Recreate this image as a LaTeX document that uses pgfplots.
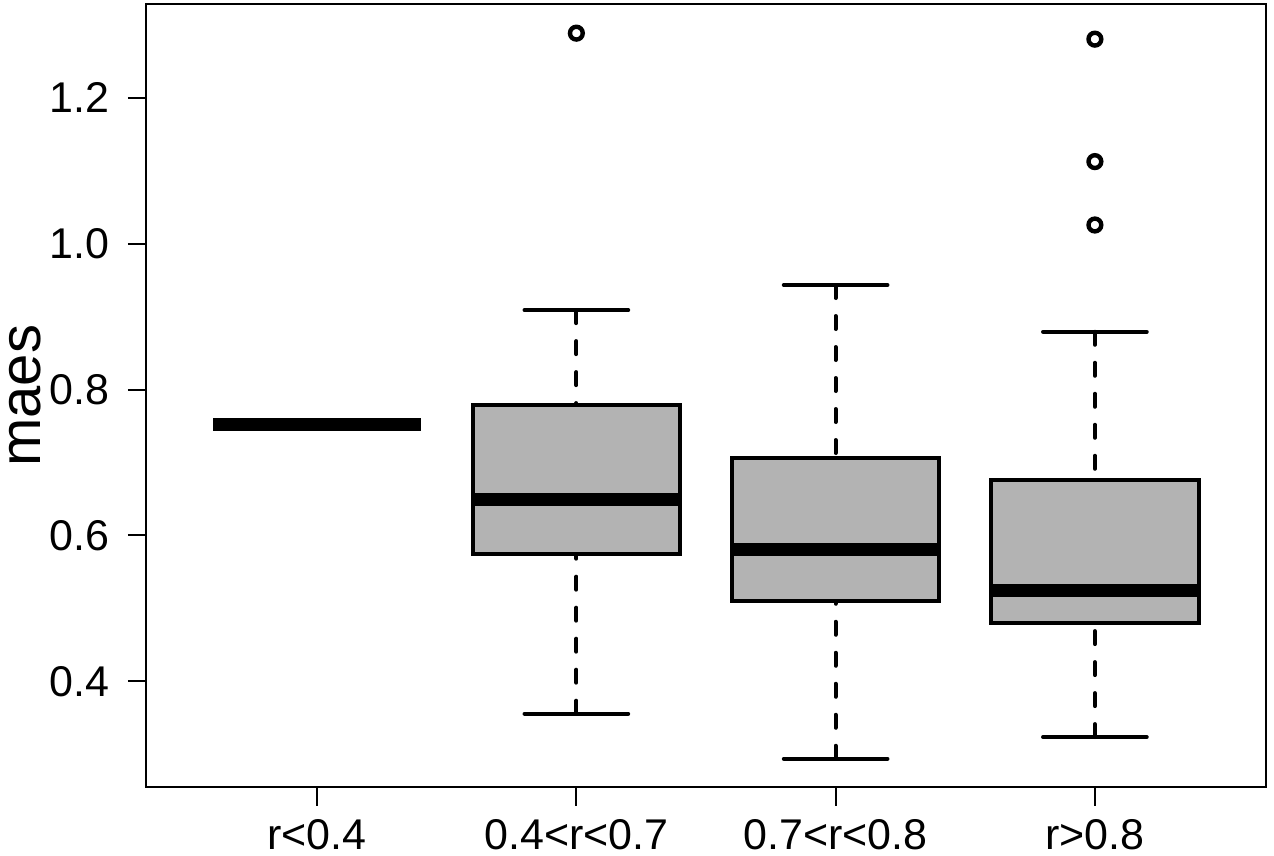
\documentclass[border=0pt]{standalone}
\usepackage{fontspec}
\setmainfont{Liberation Sans}
\usepackage{pgfplots}
\pgfplotsset{compat=1.18}
\usepgfplotslibrary{statistics}
\definecolor{boxgray}{HTML}{B3B3B3}

% R-style boxplot: grey box, thick median, dashed whiskers with solid caps
\pgfplotsset{
  rbox/.style={
    black,
    boxplot/draw direction=y,
    boxplot/box extend=0.8,
    boxplot/whisker extend=0.4,
    boxplot/every box/.style={fill=boxgray, draw=black, line width=2pt, solid},
    boxplot/every median/.style={draw=black, line width=6.5pt, solid},
    boxplot/draw/lower whisker/.code={%
      \draw[black, line width=2pt, line cap=round, dash pattern=on 6.5pt off 9pt]
        (boxplot box cs:\pgfplotsboxplotvalue{lower whisker},0.5) --
        (boxplot box cs:\pgfplotsboxplotvalue{lower quartile},0.5);
      \draw[black, line width=2pt, line cap=round, solid]
        (boxplot whisker cs:\pgfplotsboxplotvalue{lower whisker},0) --
        (boxplot whisker cs:\pgfplotsboxplotvalue{lower whisker},1);
    },
    boxplot/draw/upper whisker/.code={%
      \draw[black, line width=2pt, line cap=round, dash pattern=on 6.5pt off 9pt]
        (boxplot box cs:\pgfplotsboxplotvalue{upper whisker},0.5) --
        (boxplot box cs:\pgfplotsboxplotvalue{upper quartile},0.5);
      \draw[black, line width=2pt, line cap=round, solid]
        (boxplot whisker cs:\pgfplotsboxplotvalue{upper whisker},0) --
        (boxplot whisker cs:\pgfplotsboxplotvalue{upper whisker},1);
    },
    mark=o, mark size=3.2pt, mark options={solid, line width=2.2pt, black},
  },
}

\begin{document}
\begin{tikzpicture}
% page = reference frame: axis box at (0,0)-(560pt,391.75pt)
\useasboundingbox (-73pt,-34.25pt) rectangle (564pt,393.75pt);
\begin{axis}[
    scale only axis,
    width=560pt, height=391.75pt,
    xmin=0.34, xmax=4.66,
    ymin=0.2545, ymax=1.3287,
    axis line style={line width=1pt},
    tick style={line width=1pt, black},
    tick align=outside,
    major tick length=9pt,
    xtick pos=bottom, ytick pos=left,
    xtick={1,2,3,4},
    xticklabels={r<0.4, 0.4<r<0.7, 0.7<r<0.8, r>0.8},
    xticklabel style={yshift=-3.5pt},
    ytick={0.4,0.6,0.8,1.0,1.2},
    yticklabel style={xshift=-6pt, /pgf/number format/.cd, fixed, fixed zerofill, precision=1},
    /pgf/number format/assume math mode=true,
    ticklabel style={font=\fontsize{21.5}{25}\selectfont},
    ylabel={maes},
    ylabel style={at={(axis description cs:-0.0945,0.5)}, anchor=base, inner sep=0pt,
                  font=\fontsize{29}{34}\selectfont},
]
% r<0.4: all values equal
\addplot[rbox, boxplot prepared={draw position=1,
    lower whisker=0.7527, lower quartile=0.7527, median=0.7527,
    upper quartile=0.7527, upper whisker=0.7527}] coordinates {};
% 0.4<r<0.7
\addplot[rbox, boxplot prepared={draw position=2,
    lower whisker=0.3557, lower quartile=0.5743, median=0.6497,
    upper quartile=0.7787, upper whisker=0.9090}]
    table[row sep=\\, y index=0] {1.2887\\};
% 0.7<r<0.8
\addplot[rbox, boxplot prepared={draw position=3,
    lower whisker=0.2939, lower quartile=0.5098, median=0.5807,
    upper quartile=0.7064, upper whisker=0.9434}] coordinates {};
% r>0.8
\addplot[rbox, boxplot prepared={draw position=4,
    lower whisker=0.3236, lower quartile=0.4800, median=0.5249,
    upper quartile=0.6758, upper whisker=0.8793}]
    table[row sep=\\, y index=0] {1.2805\\ 1.1126\\ 1.0257\\};
\end{axis}
\end{tikzpicture}
\end{document}
